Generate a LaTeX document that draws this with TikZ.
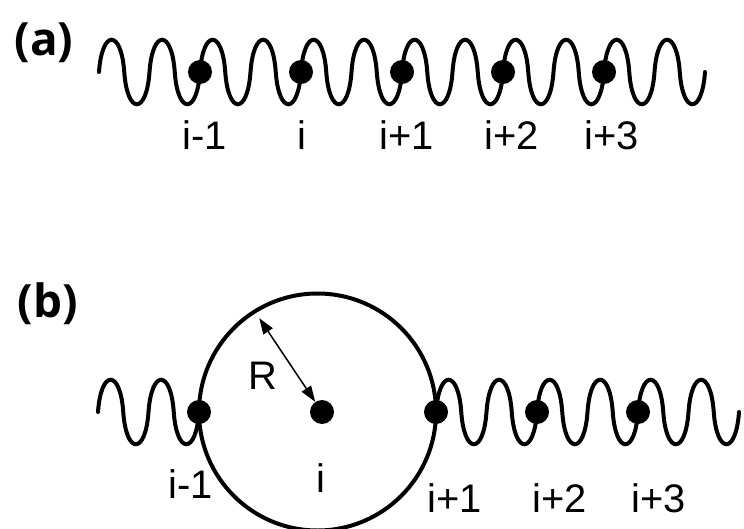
\documentclass[tikz,border=0pt]{standalone}
\usepackage{fontspec}
\setmainfont{Liberation Sans}
\newfontfamily\panelfont{Open Sans}
\usetikzlibrary{arrows.meta}

\begin{document}
\begin{tikzpicture}[x=1bp,y=-1bp,
  chain/.style={line width=4bp,line cap=round},
  bead/.style={circle,fill=black,inner sep=0pt,minimum size=24bp},
  idx/.style={font=\fontsize{40}{48}\selectfont,anchor=base,inner sep=0pt},
  panel/.style={font=\panelfont\bfseries\fontsize{46}{55}\selectfont,inner sep=0pt},
  rarrow/.style={{Triangle[length=16bp,width=11bp]}-{Triangle[length=16bp,width=11bp]},line width=1.5bp}]
\useasboundingbox (0,0) rectangle (744,529);

% (a) free chain
\node[panel] (lbla) at (44,43) {(a)};
\draw[chain] (99,72) \foreach \k in {1,...,12}{
  .. controls +(3,-43) and +(-3,-43) .. ++(25.25,0)
  .. controls +(3,43) and +(-3,43) .. ++(25.25,0)};
\node[bead] (am1) at (200,72) {};
\node[bead] (ai) at (301,72) {};
\node[bead] (ap1) at (402,72) {};
\node[bead] (ap2) at (503,72) {};
\node[bead] (ap3) at (604,72) {};
\node[idx] (tam1) at (205,150) {i-1};
\node[idx] (tai) at (302,150) {i};
\node[idx] (tap1) at (407,150) {i+1};
\node[idx] (tap2) at (512,150) {i+2};
\node[idx] (tap3) at (612,150) {i+3};

% (b) chain with sphere of radius R
\node[panel] (lblb) at (48,304) {(b)};
\draw[chain] (98,412) \foreach \k in {1,2}{
  .. controls +(3,-43) and +(-3,-43) .. ++(25.25,0)
  .. controls +(3,43) and +(-3,43) .. ++(25.25,0)};
\draw[chain] (436,412) \foreach \k in {1,...,6}{
  .. controls +(3,-43) and +(-3,-43) .. ++(25.25,0)
  .. controls +(3,43) and +(-3,43) .. ++(25.25,0)};
\node[draw,circle,line width=4bp,minimum size=237bp,inner sep=0pt] (ring) at (317.5,412) {};
\node[bead] (bm1) at (199,412) {};
\node[bead] (bi) at (322,412) {};
\node[bead] (bp1) at (436,412) {};
\node[bead] (bp2) at (537,412) {};
\node[bead] (bp3) at (638,412) {};
\draw[rarrow,shorten <=10bp] (ring.122) -- (bi);
\node[idx,anchor=center] (rlbl) at (263,376) {R};
\node[idx] (tbm1) at (191,498) {i-1};
\node[idx] (tbi) at (321,492) {i};
\node[idx] (tbp1) at (455,512) {i+1};
\node[idx] (tbp2) at (560,512) {i+2};
\node[idx] (tbp3) at (659,512) {i+3};
\end{tikzpicture}
\end{document}
